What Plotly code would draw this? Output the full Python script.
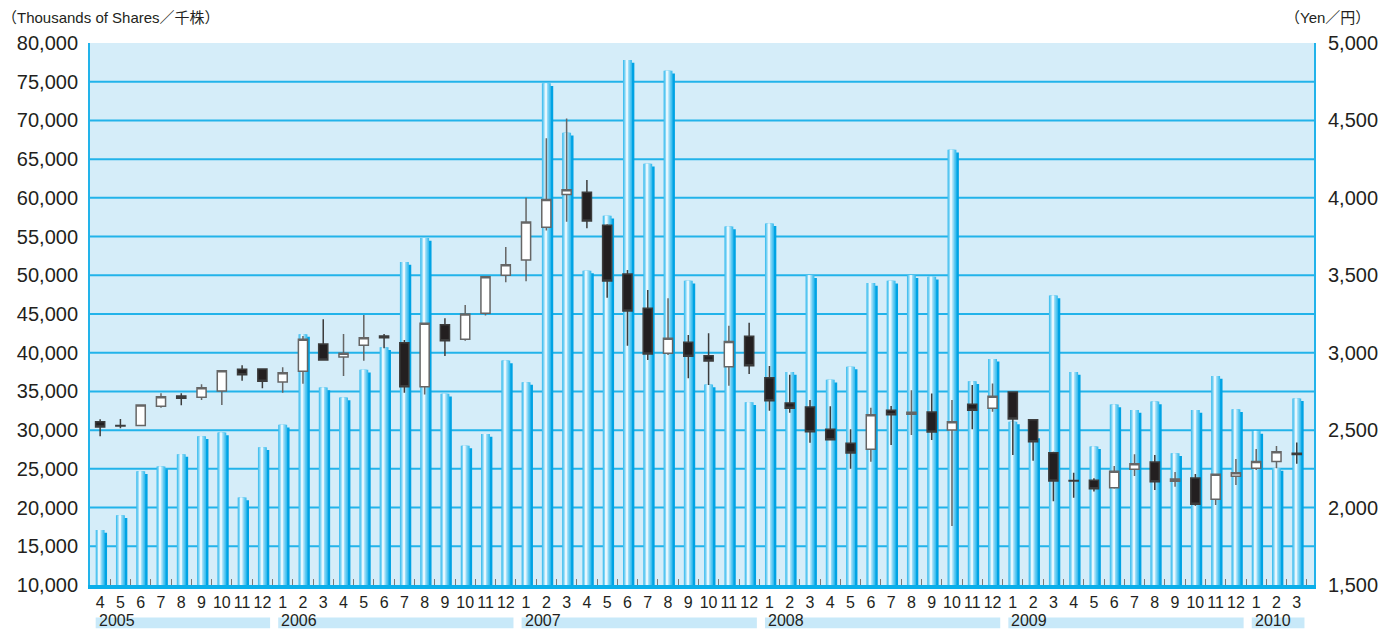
import plotly.graph_objects as go

# Month categories (April 2005 – March 2010)
years = [2005] * 9 + [2006] * 12 + [2007] * 12 + [2008] * 12 + [2009] * 12 + [2010] * 3
months = list(range(4, 13)) + list(range(1, 13)) * 4 + [1, 2, 3]
cats = [f"{y}-{m:02d}" for y, m in zip(years, months)]

# Monthly trading volume (thousands of shares)
volume = [
    17100, 19000, 24700, 25300, 26900, 29200, 29700, 21300, 27800,
    30700, 42400, 35500, 34200, 37800, 40700, 51700, 54800, 34700, 28000, 29500, 39000,
    36200, 74800, 68400, 50600, 57700, 77800, 64400, 76400, 49300, 35900, 56300, 33600,
    56700, 37500, 50000, 36500, 38200, 49000, 49300, 50000, 49800, 66200, 36300, 39200,
    31100, 29300, 47400, 37500, 27900, 33300, 32600, 33700, 27000, 32600, 37000, 32700,
    29900, 25100, 34100,
]

# Monthly share price (yen)
price_open = [
    2555, 2530, 2530, 2654, 2720, 2712, 2753, 2893, 2895,
    2811, 2880, 3056, 2972, 3048, 3108, 3065, 2781, 3181, 3087, 3255, 3500,
    3599, 3810, 4021, 4036, 3823, 3508, 3287, 2996, 3067, 2981, 2910, 3106,
    2839, 2675, 2649, 2505, 2415, 2376, 2628, 2602, 2617, 2501, 2667, 2641,
    2746, 2567, 2354, 2175, 2176, 2128, 2247, 2294, 2170, 2191, 2053, 2202,
    2254, 2298, 2350,
]
price_high = [
    2570, 2572, 2665, 2738, 2738, 2796, 2884, 2919, 2895,
    2906, 3108, 3216, 3121, 3244, 3121, 3082, 3190, 3222, 3308, 3495, 3683,
    4000, 4385, 4512, 4115, 3830, 3534, 3405, 3351, 3114, 3125, 3174, 3194,
    2914, 2858, 2695, 2654, 2505, 2645, 2656, 2757, 2736, 2695, 2791, 2802,
    2748, 2567, 2361, 2225, 2189, 2268, 2344, 2339, 2230, 2217, 2217, 2314,
    2378, 2398, 2421,
]
price_low = [
    2460, 2512, 2528, 2645, 2660, 2695, 2662, 2819, 2770,
    2742, 2800, 2948, 2850, 2948, 3029, 2742, 2730, 2979, 3078, 3240, 3455,
    3461, 3790, 3846, 3803, 3355, 3045, 2953, 2985, 2835, 2792, 2787, 2862,
    2626, 2613, 2419, 2438, 2251, 2296, 2404, 2469, 2436, 1881, 2505, 2619,
    2339, 2302, 2041, 2064, 2103, 2122, 2204, 2113, 2135, 2012, 2017, 2146,
    2243, 2254, 2283,
]
price_close = [
    2520, 2527, 2662, 2716, 2706, 2774, 2884, 2858, 2815,
    2871, 3087, 2953, 2996, 3097, 3097, 2781, 3190, 3078, 3250, 3490, 3568,
    3844, 3990, 4053, 3851, 3463, 3270, 2992, 3093, 2977, 2947, 3073, 2916,
    2690, 2641, 2490, 2438, 2352, 2600, 2600, 2615, 2488, 2554, 2628, 2719,
    2572, 2425, 2172, 2172, 2122, 2234, 2283, 2167, 2185, 2021, 2215, 2225,
    2298, 2361, 2343,
]

year_labels = ["2005", "2006", "2007", "2008", "2009", "2010"]
left_ticks = list(range(10000, 80001, 5000))
right_ticks = list(range(1500, 5001, 500))

FONT = "Liberation Sans, Arial, Noto Sans CJK JP, sans-serif"
TXT = "#231f20"
GRID = "#22b3ea"

fig = go.Figure()

# Cylinder-style volume bars: a drop shadow plus layered strips for shading
fig.add_trace(go.Bar(x=cats, y=[v - 350 for v in volume], width=0.44, offset=-0.1,
                     marker=dict(color="#00a3e4", line_width=0), hoverinfo="skip"))
layers = [
    (0.44, -0.22, "#3fbeef"),
    (0.34, -0.18, "#62caf2"),
    (0.24, -0.14, "#8fd9f6"),
    (0.14, -0.10, "#bfe9fa"),
    (0.06, -0.06, "#e6f7fe"),
]
for w, off, col in layers:
    fig.add_trace(go.Bar(x=cats, y=volume, width=w, offset=off,
                         marker=dict(color=col, line_width=0), hoverinfo="skip"))

# Monthly price candlesticks on the right-hand axis
fig.add_trace(go.Candlestick(
    x=cats, open=price_open, high=price_high, low=price_low, close=price_close,
    yaxis="y2", whiskerwidth=0,
    increasing=dict(fillcolor="#ffffff", line=dict(color="#666666", width=1.5)),
    decreasing=dict(fillcolor="#231f20", line=dict(color="#3c3c3c", width=1.5)),
    hoverinfo="skip",
))

shapes = []
annotations = []

# Horizontal grid lines (the top edge of the plot stays unruled)
for t in left_ticks[1:-1]:
    shapes.append(dict(type="line", xref="paper", yref="y", x0=0, x1=1, y0=t, y1=t,
                       line=dict(color=GRID, width=2), layer="below"))

# Year bands beneath the month labels
start = 0
for yl in year_labels:
    n = years.count(int(yl))
    x0 = start - 0.5 + 0.28
    x1 = start + n - 0.5 - 0.12
    shapes.append(dict(type="rect", xref="x", yref="paper", x0=x0, x1=x1,
                       y0=-0.06, y1=-0.08, fillcolor="#c8e9f9", line_width=0,
                       layer="below"))
    annotations.append(dict(x=x0, y=-0.066, xref="x", yref="paper", text=yl,
                            showarrow=False, xanchor="left", yanchor="middle",
                            xshift=1, font=dict(size=16, color=TXT, family=FONT)))
    start += n

annotations.append(dict(x=0, y=1, xref="paper", yref="paper",
                        text="（Thousands of Shares／千株）", showarrow=False,
                        xanchor="left", yanchor="middle", xshift=-90, yshift=26,
                        font=dict(size=15, color=TXT, family=FONT)))
annotations.append(dict(x=1, y=1, xref="paper", yref="paper",
                        text="（Yen／円）", showarrow=False,
                        xanchor="right", yanchor="middle", xshift=58, yshift=26,
                        font=dict(size=15, color=TXT, family=FONT)))

fig.update_layout(
    width=1382, height=630,
    margin=dict(l=90, r=68, t=43, b=45, autoexpand=False),
    paper_bgcolor="#ffffff", plot_bgcolor="#d5edf9",
    barmode="overlay", showlegend=False,
    boxgap=0.55, boxgroupgap=0,
    font=dict(family=FONT, color=TXT),
    shapes=shapes, annotations=annotations,
    xaxis=dict(
        type="category", categoryorder="array", categoryarray=cats,
        range=[-0.5, 59.85], tickmode="array", tickvals=cats,
        ticktext=[str(m) for m in months], tickson="boundaries", tickangle=0,
        ticks="inside", ticklen=6, tickcolor="#7a7a7a", tickwidth=1,
        showgrid=False, showline=True, linecolor="#0aaeea", linewidth=4,
        tickfont=dict(size=16, color=TXT), rangeslider=dict(visible=False),
        fixedrange=True, automargin=False,
    ),
    yaxis=dict(
        range=[10000, 80000], tickvals=left_ticks, tickformat=",",
        showgrid=False, showline=True, linecolor=GRID, linewidth=2, ticks="",
        ticklabelstandoff=6, tickfont=dict(size=20, color=TXT), fixedrange=True,
        automargin=False,
    ),
    yaxis2=dict(
        overlaying="y", side="right", range=[1500, 5000], tickvals=right_ticks,
        tickformat=",", showgrid=False, showline=True, linecolor=GRID, linewidth=2,
        ticks="", ticklabelstandoff=8, tickfont=dict(size=20, color=TXT),
        fixedrange=True, automargin=False,
    ),
)

fig.write_html("out.html")
